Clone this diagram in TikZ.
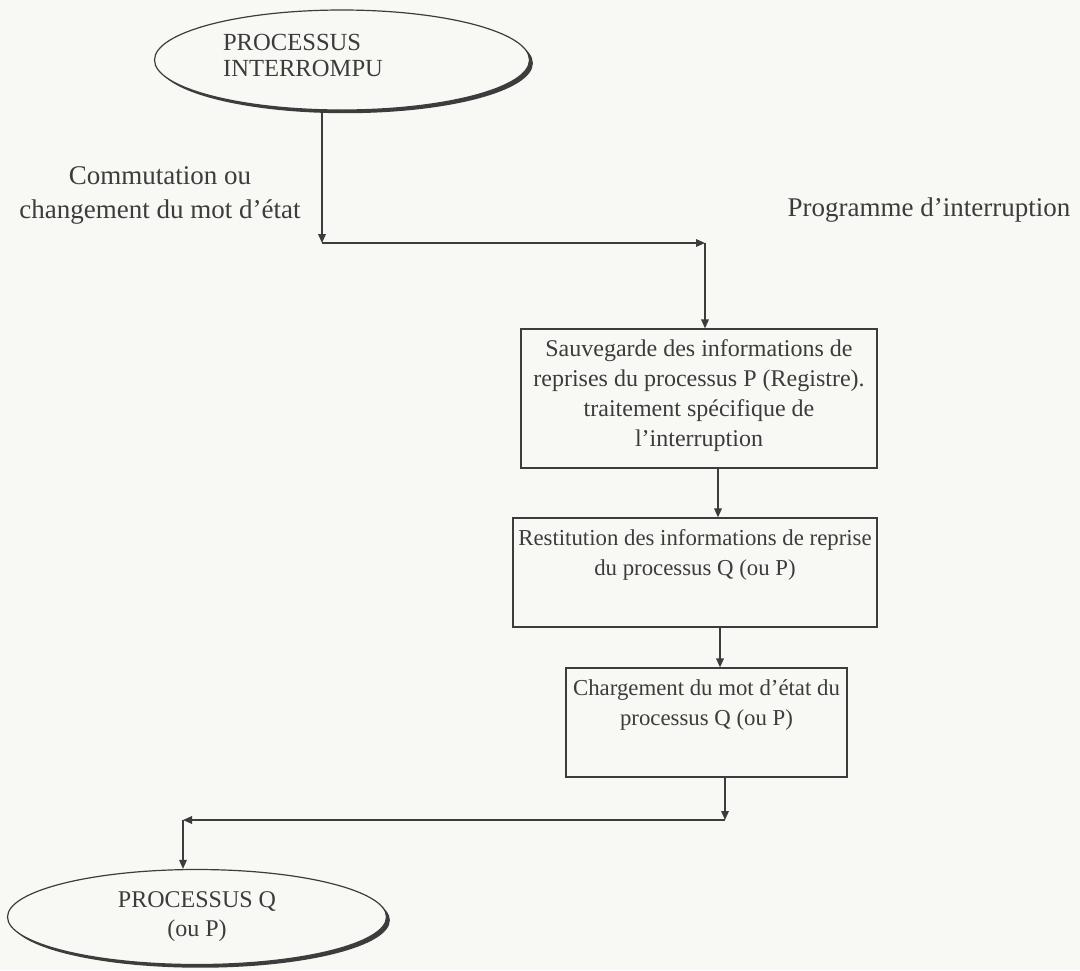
\documentclass[tikz,border=0pt]{standalone}
\usepackage{fontspec}
\setmainfont{Liberation Serif}
\usepackage{xcolor}
\usepackage{tikz}
\usetikzlibrary{arrows.meta,shapes.geometric,shadows}

\definecolor{paper}{RGB}{248,248,245}
\definecolor{ink}{RGB}{60,60,60}

% body of a step box: fixed size, text from the top
\newcommand{\boxbody}[3]{\parbox[c][#2][t]{#1}{\centering\strut #3}}

\begin{document}
\begin{tikzpicture}[
    x=0.5pt,
    y=0.5pt,
    >={Triangle[length=4.5pt,width=3.8pt]},
    flow/.style={draw=ink,line width=0.7pt},
    procell/.style={
        ellipse,
        draw=ink,
        line width=0.6pt,
        fill=paper,
        inner sep=0pt,
        text=ink,
        font=\fontsize{12}{14.5}\selectfont,
        drop shadow={shadow xshift=1.7pt,shadow yshift=-1.6pt,opacity=1,fill=ink}
    },
    procbox/.style={
        draw=ink,
        line width=0.6pt,
        inner xsep=1pt,
        inner ysep=3pt,
        text=ink,
        font=\fontsize{12}{15}\selectfont
    },
    smallbox/.style={
        procbox,
        font=\fontsize{11.4}{15}\selectfont
    },
    lbl/.style={
        text=ink,
        align=center,
        font=\fontsize{13.5}{17}\selectfont
    }
]

\fill[paper] (0,0) rectangle (1080,-970);
\useasboundingbox (0,0) rectangle (1080,-970);

% ---------------------------------------------------------
% Interrupted process
% ---------------------------------------------------------

\node[procell,minimum width=187.5pt,minimum height=50pt]
    (intr) at (342,-60) {};

\node[text=ink,anchor=west,align=left,font=\fontsize{12.3}{13}\selectfont]
    (intrlbl) at (216,-55)
{PROCESSUS\\INTERROMPU};

\node[lbl] (commlbl) at (160,-195)
{Commutation ou\\changement du mot d’état};

\node[lbl] (proglbl) at (929,-210)
{Programme d’interruption};

% ---------------------------------------------------------
% Steps of the interrupt routine
% ---------------------------------------------------------

\node[procbox] (sauv) at (699,-398.5)
{\boxbody{176pt}{63.5pt}{Sauvegarde des informations de\\
reprises du processus P (Registre).\\
traitement spécifique de\\
l’interruption}};

\node[smallbox] (restit) at (695,-572.5)
{\boxbody{180pt}{48.5pt}{Restitution des informations de reprise\\
du processus Q (ou P)}};

\node[smallbox] (charg) at (706.5,-722.5)
{\boxbody{138.5pt}{48.5pt}{Chargement du mot d’état du\\
processus Q (ou P)}};

% ---------------------------------------------------------
% Resumed process
% ---------------------------------------------------------

\node[procell,minimum width=189.5pt,minimum height=47.5pt,align=center]
    (qproc) at (197,-917)
{PROCESSUS Q\\(ou P)};

% ---------------------------------------------------------
% Connectors
% ---------------------------------------------------------

\coordinate (turnA) at (322,-243);
\coordinate (turnB) at (705,-243);
\coordinate (turnC) at (725,-820);
\coordinate (turnD) at (183,-820);

\draw[flow,->] (intr.south -| turnA) -- (turnA);
\draw[flow,->] (turnA) -- (turnB);
\draw[flow,->] (turnB) -- (sauv.north -| turnB);

\draw[flow,->] ([xshift=9.5pt]sauv.south) -- ([xshift=11.5pt]restit.north);
\draw[flow,->] ([xshift=12.5pt]restit.south) -- ([xshift=6.75pt]charg.north);

\draw[flow,->] (charg.south -| turnC) -- (turnC);
\draw[flow,->] (turnC) -- (turnD);
\draw[flow,->] (turnD) -- (qproc.north -| turnD);

\end{tikzpicture}
\end{document}
